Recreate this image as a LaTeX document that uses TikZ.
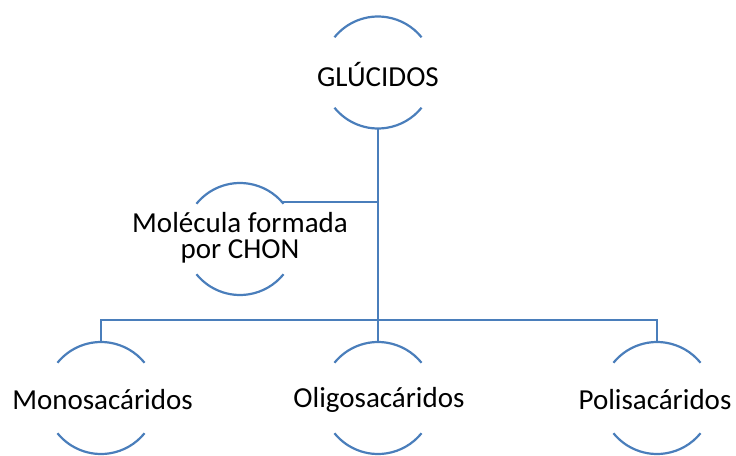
\documentclass[tikz,border=0pt]{standalone}
\usepackage{fontspec}
\setmainfont{Carlito}
\definecolor{linkblue}{RGB}{74,126,187}
\tikzset{
  ring/.style={circle, minimum size=112pt, inner sep=0pt, outer sep=0pt},
  lbl/.style={font=\fontsize{29}{26}\selectfont, align=center, inner sep=0pt},
  arcline/.style={draw=linkblue, line width=2.2pt},
  link/.style={draw=linkblue, line width=2.2pt}
}
\newcommand\halfarcs[1]{%
  \draw[arcline] ([shift={(141:56)}]#1.center) arc[start angle=141,end angle=39,radius=56];
  \draw[arcline] ([shift={(219:56)}]#1.center) arc[start angle=219,end angle=321,radius=56];}
\begin{document}
\begin{tikzpicture}[x=1pt,y=1pt]
\useasboundingbox (0,0) rectangle (736,-455);
% rings
\node[ring] (g) at (378,-72.5) {};
\node[ring] (mol) at (240,-239) {};
\node[ring] (mono) at (101,-398) {};
\node[ring] (oligo) at (378,-398) {};
\node[ring] (poli) at (657,-398) {};
% labels
\node[lbl] (gt) at (378,-74) {GLÚCIDOS};
\node[lbl] (molt) at (240,-238) {Molécula formada\\por CHON};
\node[lbl] (monot) at (102.5,-400) {Monosacáridos};
\node[lbl] (oligot) at (379,-400) {Oligosacáridos};
\node[lbl] (polit) at (655,-400) {Polisacáridos};
% arcs
\halfarcs{g}
\halfarcs{mol}
\halfarcs{mono}
\halfarcs{oligo}
\halfarcs{poli}
% connectors
\coordinate (bus) at (378,-320);
\draw[link] (g.south) -- (bus);
\draw[link] (mol.41) -- (mol.41 -| g.south);
\draw[link] (mono.north) -- (mono.north |- bus) -- (poli.north |- bus) -- (poli.north);
\draw[link] (oligo.north) -- (bus);
\end{tikzpicture}
\end{document}
